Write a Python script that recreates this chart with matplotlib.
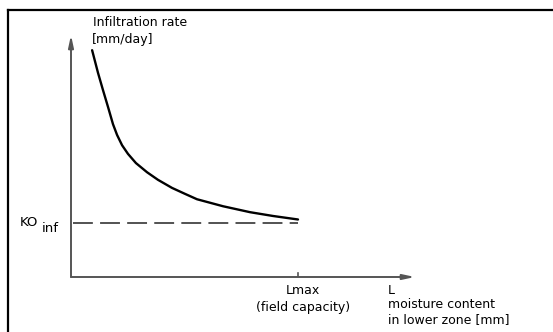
import matplotlib
matplotlib.use("Agg")
import matplotlib.pyplot as plt
from matplotlib.lines import Line2D

# ---- data (conceptual curve: infiltration rate vs lower-zone moisture) ----
L_values = [0.093, 0.119, 0.141, 0.163, 0.185, 0.203, 0.225, 0.251, 0.286,
            0.335, 0.383, 0.445, 0.502, 0.555, 0.670, 0.789, 0.890, 1.0]
rate_values = [4.20, 3.78, 3.46, 3.15, 2.83, 2.63, 2.44, 2.28, 2.11,
               1.94, 1.80, 1.65, 1.54, 1.44, 1.31, 1.20, 1.13, 1.065]
K0_inf = 1.0
L_max = 1.0
y_label_lines = ["Infiltration rate", "[mm/day]"]
x_label_lines = ["L", "moisture content", "in lower zone [mm]"]
lmax_label = "Lmax"
lmax_note = "(field capacity)"

W, H = 553, 332
fig = plt.figure(figsize=(W / 100, H / 100), dpi=100)
plt.rcParams['font.family'] = ['DejaVu Sans']


def fx(px):
    return px / W


def fy(py):
    return 1 - py / H


# axes: origin at pixel (71, 277)
x0, y0, x1, y1 = 71, 277, 415, 35
ax = fig.add_axes([fx(x0), fy(y0), fx(x1) - fx(x0), fy(y1) - fy(y0)])
ax.set_xlim(0, (x1 - x0) / 227)
ax.set_ylim(0, (y0 - y1) / 54)
ax.axis("off")

axis_col = "#555555"
# axis arrows
ax.annotate("", xy=(1, 0), xytext=(0, 0), xycoords="axes fraction",
            arrowprops=dict(arrowstyle="-|>,head_length=0.7,head_width=0.15",
                            color=axis_col, lw=1.4, shrinkA=0, shrinkB=0))
ax.annotate("", xy=(0, 1), xytext=(0, 0), xycoords="axes fraction",
            arrowprops=dict(arrowstyle="-|>,head_length=0.7,head_width=0.15",
                            color=axis_col, lw=1.4, shrinkA=0, shrinkB=0))

# curve
ax.plot(L_values, rate_values, color="black", lw=1.7,
        solid_capstyle="round", solid_joinstyle="round")
# K0_inf dashed line
ax.plot([0.01, L_max], [K0_inf, K0_inf], color="#444444", lw=1.3,
        dashes=(11, 4))
# Lmax tick
ax.plot([L_max, L_max], [0, 0.07], color=axis_col, lw=1.2)

fs = 9
# labels
fig.text(fx(93), fy(22), y_label_lines[0], fontsize=fs, va="center", ha="left")
fig.text(fx(92), fy(40), y_label_lines[1], fontsize=fs, va="center", ha="left")
fig.text(fx(20), fy(223), "KO", fontsize=fs + 0.5, va="center", ha="left")
fig.text(fx(42), fy(229), "inf", fontsize=fs + 0.5, va="center", ha="left")
fig.text(fx(303), fy(291), lmax_label, fontsize=fs, va="center", ha="center")
fig.text(fx(303), fy(307), lmax_note, fontsize=fs, va="center", ha="center")
fig.text(fx(388), fy(291), x_label_lines[0], fontsize=fs, va="center", ha="left")
fig.text(fx(388), fy(305), x_label_lines[1], fontsize=fs, va="center", ha="left")
fig.text(fx(388), fy(320), x_label_lines[2], fontsize=fs, va="center", ha="left")

# frame (left and top edges)
fig.add_artist(Line2D([fx(8), fx(8)], [0, fy(10)], color="black", lw=1.6))
fig.add_artist(Line2D([fx(8), 1], [fy(10), fy(10)], color="black", lw=1.6))

fig.savefig("out.png", dpi=100)
